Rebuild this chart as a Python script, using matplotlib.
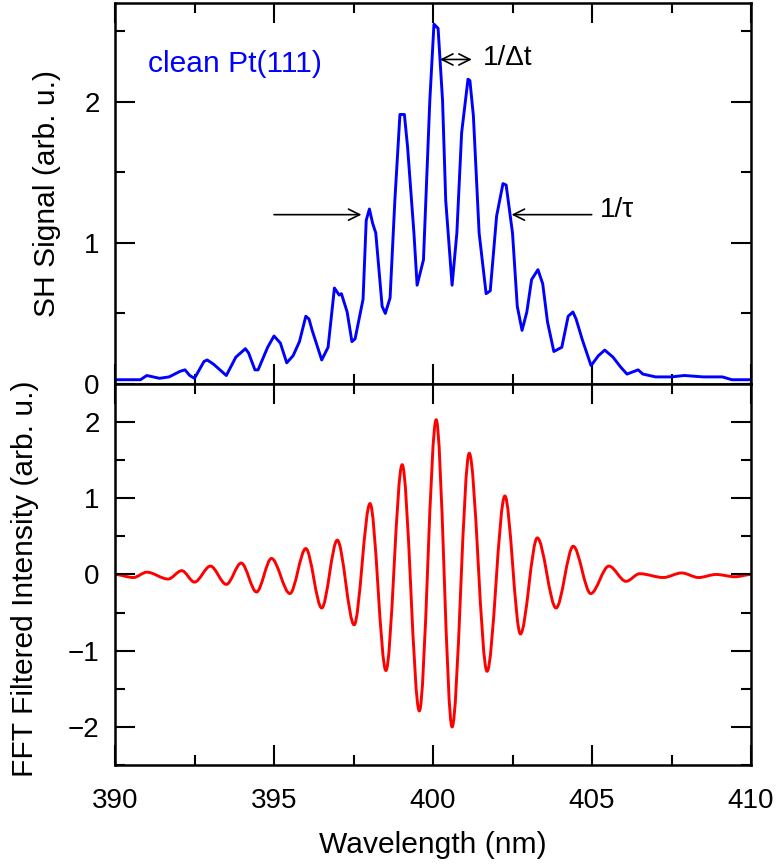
import numpy as np
import matplotlib
matplotlib.use("Agg")
import matplotlib.pyplot as plt
from matplotlib.path import Path
from matplotlib.patches import PathPatch

plt.rcParams['font.family'] = ['Liberation Sans', 'DejaVu Sans']
plt.rcParams['font.size'] = 20

# SH signal (top panel)
sh_wl = [390.0, 390.4, 390.8, 391.0, 391.2, 391.4, 391.7, 392.05, 392.2, 392.35,
         392.5, 392.8, 392.9, 393.1, 393.3, 393.5, 393.8, 394.0, 394.1, 394.2,
         394.4, 394.5, 394.8, 395.0, 395.2, 395.4, 395.6, 395.8, 396.0, 396.1,
         396.2, 396.5, 396.7, 396.9, 397.05, 397.12, 397.3, 397.45, 397.55, 397.8,
         397.9, 398.0, 398.1, 398.2, 398.4, 398.5, 398.65, 398.8, 398.96, 399.1,
         399.2, 399.4, 399.5, 399.7, 399.9, 400.03, 400.16, 400.3, 400.4, 400.6,
         400.75, 400.9, 401.1, 401.16, 401.27, 401.45, 401.67, 401.8, 402.0, 402.2,
         402.3, 402.5, 402.65, 402.8, 402.95, 403.1, 403.3, 403.45, 403.6, 403.8,
         404.05, 404.25, 404.4, 404.5, 404.7, 404.97, 405.2, 405.4, 405.66, 405.9,
         406.1, 406.45, 406.6, 407.0, 407.5, 407.9, 408.5, 409.1, 409.4, 409.97]
sh_val = [0.03, 0.03, 0.03, 0.06, 0.05, 0.04, 0.05, 0.09, 0.10, 0.06,
          0.04, 0.16, 0.17, 0.14, 0.10, 0.06, 0.19, 0.23, 0.25, 0.22,
          0.10, 0.10, 0.26, 0.34, 0.29, 0.15, 0.20, 0.30, 0.48, 0.46,
          0.38, 0.17, 0.26, 0.68, 0.63, 0.64, 0.51, 0.30, 0.32, 0.60,
          1.16, 1.24, 1.14, 1.07, 0.55, 0.50, 0.61, 1.30, 1.91, 1.91,
          1.68, 1.07, 0.70, 0.88, 2.01, 2.55, 2.52, 2.01, 1.30, 0.70,
          1.07, 1.78, 2.16, 2.15, 1.90, 1.07, 0.64, 0.66, 1.19, 1.42,
          1.41, 1.07, 0.55, 0.38, 0.51, 0.74, 0.81, 0.71, 0.44, 0.23,
          0.26, 0.48, 0.51, 0.46, 0.31, 0.13, 0.20, 0.24, 0.19, 0.12,
          0.07, 0.10, 0.07, 0.05, 0.05, 0.06, 0.05, 0.05, 0.03, 0.03]

# FFT filtered intensity (bottom panel): turning points
fft_wl = [390.0, 390.58, 391.0, 391.67, 392.1, 392.5, 393.0, 393.5, 393.97, 394.45,
          394.92, 395.5, 396.0, 396.5, 396.99, 397.52, 398.02, 398.52, 399.03, 399.57,
          400.1, 400.6, 401.14, 401.7, 402.26, 402.75, 403.28, 403.87, 404.41, 404.96,
          405.53, 406.07, 406.5, 407.24, 407.82, 408.35, 408.9, 409.5, 410.0]
fft_val = [0.0, -0.04, 0.03, -0.06, 0.05, -0.10, 0.11, -0.13, 0.15, -0.23,
           0.21, -0.25, 0.34, -0.44, 0.45, -0.66, 0.93, -1.26, 1.44, -1.79,
           2.03, -2.00, 1.59, -1.27, 1.03, -0.78, 0.48, -0.44, 0.37, -0.25,
           0.11, -0.09, 0.01, -0.04, 0.02, -0.04, 0.0, -0.03, 0.0]

fig = plt.figure(figsize=(7.76, 8.64), dpi=100)
ax1 = fig.add_axes([0.1482, 0.5556, 0.8196, 0.4409])
ax2 = fig.add_axes([0.1482, 0.1146, 0.8196, 0.4410], sharex=ax1)

ax1.plot(sh_wl, sh_val, color='blue', lw=2.1)

# smooth curve through the turning points (flat tangents at each extremum)
verts = [(fft_wl[0], fft_val[0])]
codes = [Path.MOVETO]
for i in range(1, len(fft_wl)):
    dx = (fft_wl[i] - fft_wl[i - 1]) / 3
    verts += [(fft_wl[i - 1] + dx, fft_val[i - 1]), (fft_wl[i] - dx, fft_val[i]),
              (fft_wl[i], fft_val[i])]
    codes += [Path.CURVE4] * 3
ax2.add_patch(PathPatch(Path(verts, codes), fill=False, edgecolor='red', lw=2.1))

for ax in (ax1, ax2):
    ax.set_xticks(np.arange(390, 411, 5))
    ax.set_xticks(np.arange(390, 411, 2.5), minor=True)
    ax.set_yticks(np.arange(-2, 3, 1) if ax is ax2 else [0, 1, 2])
    ax.set_yticks(np.arange(-2.5, 2.6, 0.5), minor=True)
    ax.tick_params(which='both', direction='in', top=True, right=True, width=1.5)
    ax.tick_params(which='major', length=14.5, pad=11)
    ax.tick_params(which='minor', length=7.5)
    ax.tick_params(axis='x', which='major', pad=16.5)
    for s in ax.spines.values():
        s.set_linewidth(1.8)
ax1.set_xlim(390, 410)
ax1.set_ylim(0, 2.7)
ax2.set_ylim(-2.5, 2.5)
ax1.tick_params(labelbottom=False)

ax1.set_ylabel('SH Signal (arb. u.)', fontsize=21.6)
ax1.yaxis.set_label_coords(-0.085, 0.5)
ax2.set_ylabel('FFT Filtered Intensity (arb. u.)', fontsize=21.6)
ax2.yaxis.set_label_coords(-0.119, 0.49)
ax2.set_xlabel('Wavelength (nm)', fontsize=21.6, labelpad=12)

ax1.text(391.04, 2.27, 'clean Pt(111)', color='blue', va='center', ha='left', fontsize=21.6)

arrow = dict(arrowstyle='->', lw=1.2, color='black', shrinkA=0, shrinkB=0)
ax1.annotate('', xy=(397.75, 1.20), xytext=(395.0, 1.20), arrowprops=arrow)
ax1.annotate('', xy=(402.47, 1.20), xytext=(404.99, 1.20), arrowprops=arrow)
ax1.annotate('', xy=(400.22, 2.30), xytext=(401.22, 2.30),
             arrowprops=dict(arrowstyle='<->', lw=1.2, color='black', shrinkA=0, shrinkB=0))
ax1.text(401.57, 2.31, '1/Δt', va='center', ha='left')
ax1.text(405.25, 1.23, '1/τ', va='center', ha='left')

fig.savefig('out.png', dpi=100)
